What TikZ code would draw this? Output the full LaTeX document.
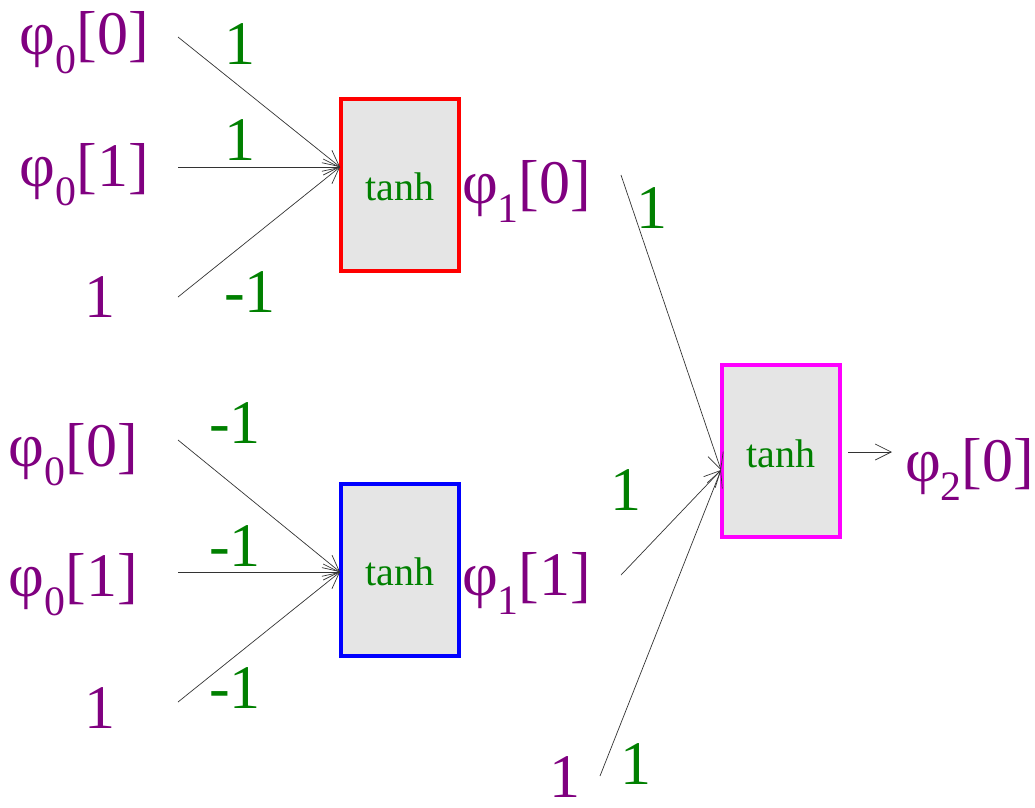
\documentclass[tikz,border=0pt]{standalone}
\usepackage{graphicx}
\usepackage{fontspec}
\newfontfamily\mainf{Liberation Serif}
\usetikzlibrary{arrows.meta}
\definecolor{lblpurple}{HTML}{800080}
\definecolor{wgreen}{HTML}{008000}
\definecolor{boxgray}{HTML}{E5E5E5}
\definecolor{boxred}{HTML}{FF0000}
\definecolor{boxblue}{HTML}{0000FF}
\definecolor{boxmagenta}{HTML}{FF00FF}
\newcommand{\bigtxt}[1]{\scalebox{1.55}{\mainf\fontsize{40}{44}\selectfont #1}}
\newcommand{\phisub}[2]{\bigtxt{φ\raisebox{-0.32em}{\fontsize{27}{30}\selectfont #1}[#2]}}
\begin{document}
\begin{tikzpicture}[x=1pt,y=-1pt,
  unitbox/.style={draw, line width=3.2pt, fill=boxgray, minimum width=118pt, minimum height=172pt, inner sep=0pt},
  boxtext/.style={text=wgreen, font=\mainf\fontsize{40}{44}\selectfont, anchor=base, inner sep=0pt},
  sig/.style={text=lblpurple, inner sep=0pt},
  wt/.style={text=wgreen, inner sep=0pt, anchor=base},
  conn/.style={line width=0.7pt, black!80, -{Straight Barb[length=16pt,width=16pt,line width=0.7pt]}}
]
\useasboundingbox (0,0) rectangle (1035,807);
% boxes
\node[unitbox, draw=boxred] (b1) at (400,185) {};
\node[unitbox, draw=boxblue] (b2) at (400,570) {};
\node[unitbox, draw=boxmagenta] (b3) at (781,451) {};
\node[boxtext] (t1) at (400,200) {tanh};
\node[boxtext] (t2) at (400,585) {tanh};
\node[boxtext] (t3) at (781,467) {tanh};
% signal labels
\node[sig, anchor=base east] (x00) at (149,54) {\phisub{0}{0}};
\node[sig, anchor=base east] (x01) at (149,186) {\phisub{0}{1}};
\node[sig, anchor=base] (bias1) at (100,317) {\bigtxt{1}};
\node[sig, anchor=base east] (y00) at (138,466) {\phisub{0}{0}};
\node[sig, anchor=base east] (y01) at (138,596) {\phisub{0}{1}};
\node[sig, anchor=base] (bias2) at (100,728) {\bigtxt{1}};
\node[sig, anchor=base west] (h0) at (462,203) {\phisub{1}{0}};
\node[sig, anchor=base west] (h1) at (462,595) {\phisub{1}{1}};
\node[sig, anchor=base west] (out) at (905,481) {\phisub{2}{0}};
\node[sig, anchor=base] (bias3) at (565,797) {\bigtxt{1}};
% weights
\node[wt] (w1) at (240,64) {\bigtxt{1}};
\node[wt] (w2) at (240,160) {\bigtxt{1}};
\node[wt] (w3) at (250,312) {\bigtxt{-1}};
\node[wt] (w4) at (235,443) {\bigtxt{-1}};
\node[wt] (w5) at (235,566) {\bigtxt{-1}};
\node[wt] (w6) at (235,708) {\bigtxt{-1}};
\node[wt] (w7) at (652,228) {\bigtxt{1}};
\node[wt] (w8) at (626,510) {\bigtxt{1}};
\node[wt] (w9) at (636,784) {\bigtxt{1}};
% connector end points
\coordinate (s1) at (178,37);
\coordinate (s2) at (178,167);
\coordinate (s3) at (178,297);
\coordinate (e1) at (340,167);
\coordinate (s4) at (178,440);
\coordinate (s5) at (178,572);
\coordinate (s6) at (178,702);
\coordinate (e2) at (340,572);
\coordinate (s7) at (621,175);
\coordinate (s8) at (621,575);
\coordinate (s9) at (600,776);
\coordinate (e3) at (721,470);
\coordinate (o1) at (848,452);
\coordinate (o2) at (892,452);
% connectors
\draw[conn] (s1) -- (e1);
\draw[conn] (s2) -- (e1);
\draw[conn] (s3) -- (e1);
\draw[conn] (s4) -- (e2);
\draw[conn] (s5) -- (e2);
\draw[conn] (s6) -- (e2);
\draw[conn] (s7) -- (e3);
\draw[conn] (s8) -- (e3);
\draw[conn] (s9) -- (e3);
\draw[conn] (o1) -- (o2);
\end{tikzpicture}
\end{document}
